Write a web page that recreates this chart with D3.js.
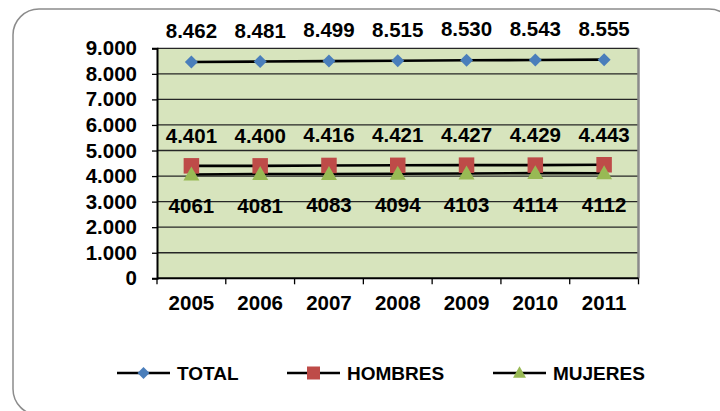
<!DOCTYPE html>
<html>
<head>
<meta charset="utf-8">
<script src="https://cdn.jsdelivr.net/npm/d3@7"></script>
<style>
  html, body { margin: 0; padding: 0; background: #fff; }
  svg { display: block; }
  text { font-family: "Liberation Sans", Arial, sans-serif; font-weight: bold; fill: #000; }
</style>
</head>
<body>
<svg id="chart" width="720" height="411"></svg>
<script>
const years = ["2005", "2006", "2007", "2008", "2009", "2010", "2011"];
const total = [8462, 8481, 8499, 8515, 8530, 8543, 8555];
const hombres = [4401, 4400, 4416, 4421, 4427, 4429, 4443];
const mujeres = [4061, 4081, 4083, 4094, 4103, 4114, 4112];
const yTicks = [0, 1000, 2000, 3000, 4000, 5000, 6000, 7000, 8000, 9000];
const seriesNames = ["TOTAL", "HOMBRES", "MUJERES"];

(function () {
const svg = d3.select("#chart");
const locale = d3.formatLocale({ decimal: ",", thousands: ".", grouping: [3], currency: ["", ""] });
const fmtDot = locale.format(",d");
const fmtPlain = d3.format("d");

const pLeft = 157, pRight = 638.5, pTop = 48.3, pBottom = 278.3;
const x = d3.scaleBand().domain(years).range([pLeft, pRight]);
const y = d3.scaleLinear().domain([0, 9000]).range([pBottom, pTop]);
const cx = d => x(d) + x.bandwidth() / 2;

// outer frame
svg.append("rect").attr("x", 13).attr("y", 9).attr("width", 722).attr("height", 406)
  .attr("rx", 26).attr("ry", 26).attr("fill", "#fff").attr("stroke", "#8c8c8c").attr("stroke-width", 1.5);

// plot area
svg.append("rect").attr("x", pLeft).attr("y", pTop).attr("width", pRight - pLeft).attr("height", pBottom - pTop)
  .attr("fill", "#D7E4BD");

// gridlines
svg.append("g").selectAll("line").data(yTicks.filter(t => t > 0)).join("line")
  .attr("x1", pLeft).attr("x2", pRight).attr("y1", d => y(d)).attr("y2", d => y(d))
  .attr("stroke", "#262626").attr("stroke-width", 1.3);

// right border
svg.append("line").attr("x1", pRight).attr("x2", pRight).attr("y1", pTop).attr("y2", pBottom)
  .attr("stroke", "#8a8a8a").attr("stroke-width", 2.5);

// y axis
const yAxis = d3.axisLeft(y).tickValues(yTicks).tickSize(5).tickPadding(15).tickFormat(fmtDot);
const gy = svg.append("g").attr("transform", `translate(${pLeft},0)`).call(yAxis);
gy.select(".domain").attr("stroke", "#000").attr("stroke-width", 2);
gy.selectAll(".tick line").attr("stroke", "#000").attr("stroke-width", 1.3);
gy.selectAll(".tick text").style("font-size", "20.5px").style("font-family", "'Liberation Sans', Arial, sans-serif")
  .style("font-weight", "bold").attr("fill", "#000");

// x axis
svg.append("line").attr("x1", pLeft).attr("x2", pRight).attr("y1", pBottom).attr("y2", pBottom)
  .attr("stroke", "#000").attr("stroke-width", 2);
const bounds = years.map(d => x(d)).concat([pRight]);
svg.append("g").selectAll("line").data(bounds).join("line")
  .attr("x1", d => d).attr("x2", d => d).attr("y1", pBottom).attr("y2", pBottom + 6)
  .attr("stroke", "#000").attr("stroke-width", 1.3);
svg.append("g").selectAll("text").data(years).join("text")
  .attr("x", d => cx(d)).attr("y", 310).attr("text-anchor", "middle")
  .style("font-size", "20.5px").text(d => d);

// series
const colors = ["#4A7EBB", "#BE4B48", "#98B954"];
const data = [total, hombres, mujeres];
const line = d3.line().x((d, i) => cx(years[i])).y(d => y(d));

function marker(g, type, size, color) {
  if (type === 0) {
    g.append("path").attr("d", `M0,${-size/2}L${size/2},0L0,${size/2}L${-size/2},0Z`).attr("fill", color);
  } else if (type === 1) {
    g.append("rect").attr("x", -size/2).attr("y", -size/2).attr("width", size).attr("height", size).attr("fill", color);
  } else {
    const h = size * 0.87;
    g.append("path").attr("d", `M0,${-h/2 - 1}L${size/2},${h/2 - 1}L${-size/2},${h/2 - 1}Z`).attr("fill", color);
  }
}

data.forEach((vals) => {
  svg.append("path").datum(vals).attr("d", line).attr("fill", "none")
    .attr("stroke", "#000").attr("stroke-width", 2.6);
});
const markerSizes = [13, 15.5, 16];
data.forEach((vals, s) => {
  vals.forEach((v, i) => {
    const g = svg.append("g").attr("transform", `translate(${cx(years[i])},${y(v)})`);
    marker(g, s, markerSizes[s], colors[s]);
  });
});

// data labels
const labelOffsets = [-24, -23, 38.5];
data.forEach((vals, s) => {
  svg.append("g").selectAll("text").data(vals).join("text")
    .attr("x", (d, i) => cx(years[i])).attr("y", d => y(d) + labelOffsets[s])
    .attr("text-anchor", "middle").style("font-size", "20.5px")
    .text(d => s === 2 ? fmtPlain(d) : fmtDot(d));
});

// legend
const legendX = [117, 287, 493];
const legendY = 373;
seriesNames.forEach((name, s) => {
  const lx = legendX[s];
  svg.append("line").attr("x1", lx).attr("x2", lx + 53).attr("y1", legendY).attr("y2", legendY)
    .attr("stroke", "#000").attr("stroke-width", 2.6);
  const g = svg.append("g").attr("transform", `translate(${lx + 26.5},${legendY})`);
  marker(g, s, [12, 13, 13][s], colors[s]);
  svg.append("text").attr("x", lx + 60).attr("y", legendY + 7).style("font-size", "19px").text(name);
});
})();
</script>
</body>
</html>
